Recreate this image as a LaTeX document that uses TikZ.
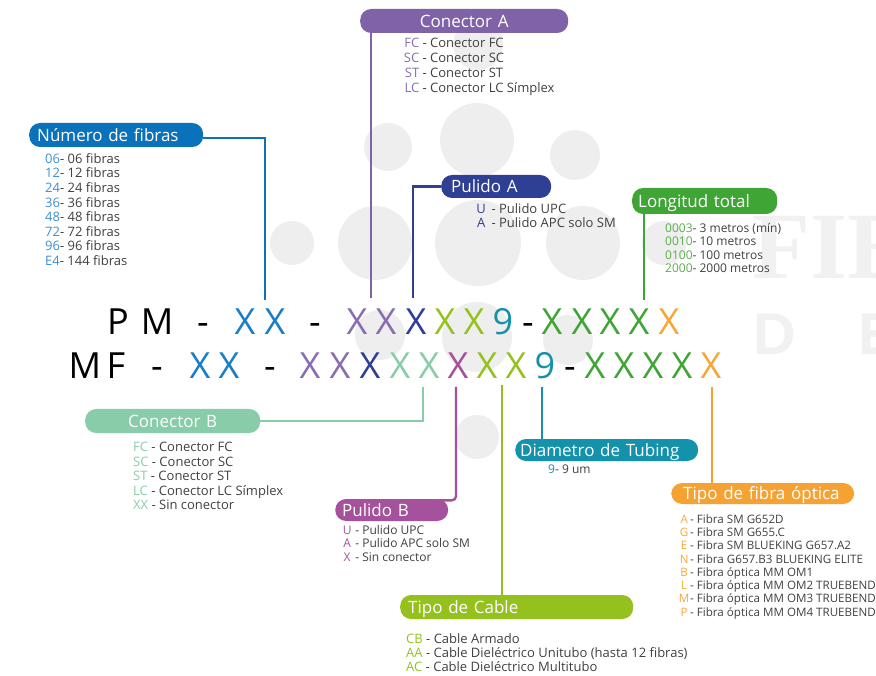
\documentclass[tikz,border=0pt]{standalone}
\usepackage{fontspec}
\setmainfont{Open Sans}
\newfontfamily\wmserif{Liberation Serif}
\newfontfamily\wmsans{Liberation Sans}
\definecolor{cBlue}{HTML}{1A7DC8}
\definecolor{nfPill}{HTML}{0A72BA}
\definecolor{nfCode}{HTML}{3D8FD2}
\definecolor{cPurple}{HTML}{8A6DB1}
\definecolor{caPill}{HTML}{8062A8}
\definecolor{cNavy}{HTML}{2F3F93}
\definecolor{cLime}{HTML}{95C11F}
\definecolor{cTeal}{HTML}{1492AC}
\definecolor{cGreen}{HTML}{3FA535}
\definecolor{ltCode}{HTML}{5AAF4C}
\definecolor{cOrange}{HTML}{F7A738}
\definecolor{tfPill}{HTML}{F5A233}
\definecolor{cMint}{HTML}{88CCA9}
\definecolor{cMagenta}{HTML}{A6519B}
\definecolor{txtGray}{HTML}{404040}
\definecolor{wmGray}{HTML}{EEEEEE}
\definecolor{wmText}{HTML}{F1F1F1}
\pgfdeclarelayer{wm}
\pgfdeclarelayer{bg}
\pgfsetlayers{wm,bg,main}
\begin{document}
\begin{tikzpicture}[x=1pt,y=-1pt,
  pill/.style={rectangle, rounded corners=11pt, inner ysep=0pt, text=white,
    font=\fontsize{17}{17}\selectfont, text height=12.2pt, text depth=0pt, anchor=west},
  item/.style={anchor=base west, inner sep=0pt, text=txtGray},
  codech/.style={anchor=base, inner sep=0pt, font=\fontsize{36}{36}\selectfont},
  conn/.style={line width=2.4pt},
  wmtxt/.style={inner sep=0pt, anchor=base west, text=wmText}]
\useasboundingbox (0,0) rectangle (876,676);

% ---------- watermark ----------
\begin{pgfonlayer}{wm}
\foreach \cx/\cy/\r in {478/45/25, 388/147/24, 477/140/37, 575/155/25,
    292/243/22, 375/243/37, 478/243/43, 583/243/37, 664/243/22,
    380/335/25, 477/337/35, 568/340/25, 477/437/22}
  \fill[wmGray] (\cx,\cy) circle [radius=\r pt];
\node[wmtxt, font=\wmserif\bfseries\fontsize{95}{95}\selectfont] (wmF) at (752,279) {FIE};
\node[wmtxt, font=\wmsans\bfseries\fontsize{59}{59}\selectfont] (wmD) at (753,355) {D};
\node[wmtxt, font=\wmsans\bfseries\fontsize{59}{59}\selectfont] (wmE) at (858,355) {E};
\end{pgfonlayer}

% ---------- code lines ----------
\foreach \x/\c/\col [count=\i] in {118/P/black, 157/M/black, 203/-/black,
    245/X/cBlue, 275/X/cBlue, 315/-/black, 357/X/cPurple, 386/X/cPurple,
    416/X/cNavy, 445/X/cLime, 474/X/cLime, 503/9/cTeal, 528/-/black,
    552/X/cGreen, 582/X/cGreen, 610/X/cGreen, 639/X/cGreen, 669/X/cOrange}
  \node[codech, text=\col] (la\i) at (\x,335) {\c};
\foreach \x/\c/\col [count=\i] in {85/M/black, 116/F/black, 157/-/black,
    200/X/cBlue, 229/X/cBlue, 270/-/black, 310/X/cPurple, 340/X/cPurple,
    370/X/cNavy, 400/X/cMint, 429/X/cMint, 458/X/cMagenta, 487/X/cLime,
    516/X/cLime, 545/9/cTeal, 570/-/black, 595/X/cGreen, 624/X/cGreen,
    653/X/cGreen, 682/X/cGreen, 711/X/cOrange}
  \node[codech, text=\col] (lb\i) at (\x,378) {\c};

% ---------- pills ----------
\node[pill, fill=nfPill, minimum height=24pt, inner xsep=8pt, text width=158pt, align=left] (nf) at (29,135) {Número de fibras};
\node[pill, fill=caPill, minimum height=24pt, inner xsep=8pt, text width=192pt, align=center] (ca) at (360,21) {Conector A};
\node[pill, fill=cNavy, minimum height=23pt, inner xsep=10pt, text width=90pt, align=left] (pa) at (441,186.5) {Pulido A};
\node[pill, fill=cGreen, minimum height=26pt, inner xsep=6pt, text width=133pt, align=left] (lt) at (632,201) {Longitud total};
\node[pill, fill=cMint, minimum height=24pt, inner xsep=8pt, text width=159pt, align=center] (cb) at (85,421) {Conector B};
\node[pill, fill=cMagenta, minimum height=22pt, inner xsep=7pt, text width=99pt, align=left] (pb) at (335,510) {Pulido B};
\node[pill, fill=cLime, minimum height=24pt, inner xsep=8pt, text width=217pt, align=left] (tc) at (400,607) {Tipo de Cable};
\node[pill, fill=cTeal, minimum height=22pt, inner xsep=5pt, text width=173pt, align=left] (dt) at (515,450) {Diametro de Tubing};
\node[pill, fill=tfPill, minimum height=21pt, inner xsep=12pt, text width=159pt, align=left] (tf) at (671,493.5) {Tipo de fibra óptica};

% ---------- connector end points ----------
\coordinate (nfend) at (265,300);
\coordinate (caend) at (371,298);
\coordinate (paend) at (413,298);
\coordinate (ltend) at (644,300);
\coordinate (cbend) at (423,387);
\coordinate (pbend) at (456,387);
\coordinate (tcend) at (502,385);
\coordinate (dtend) at (542,387);
\coordinate (tfend) at (712,387);

\begin{pgfonlayer}{bg}
\draw[conn, nfPill] ([yshift=-3pt]nf.east) -| (nfend);
\draw[conn, caPill] (ca.center -| caend) -- (caend);
\draw[conn, cNavy] (pa.west) -| (paend);
\draw[conn, cGreen] (lt.center -| ltend) -- (ltend);
\draw[conn, cMint] (cb.east) -| (cbend);
\draw[conn, cMagenta, rounded corners=4pt] (pbend) |- ([xshift=-10pt,yshift=-1.5pt]pb.north east);
\draw[conn, cLime] (tcend) -- (tc.center -| tcend);
\draw[conn, cTeal] (dtend) -- (dt.center -| dtend);
\draw[conn, tfPill] (tfend) -- (tf.center -| tfend);
\end{pgfonlayer}

% ---------- lists ----------
\foreach \c/\d [count=\i] in {06/06 fibras, 12/12 fibras, 24/24 fibras, 36/36 fibras,
    48/48 fibras, 72/72 fibras, 96/96 fibras, E4/144 fibras}
  \node[item, font=\fontsize{13}{13}\selectfont] (nfi\i) at (45,{163.3+(\i-1)*14.6}) {{\color{nfCode}\c}- \d};

\foreach \c/\d [count=\i] in {FC/Conector FC, SC/Conector SC, ST/Conector ST, LC/Conector LC Símplex}
  \node[item, font=\fontsize{13}{13}\selectfont] (cai\i) at (404,{47.8+(\i-1)*14.8}) {\makebox[15pt][r]{\color{cPurple}\c} - \d};

\foreach \c/\d [count=\i] in {U/Pulido UPC, A/Pulido APC solo SM}
  \node[item, font=\fontsize{13}{13}\selectfont] (pai\i) at (474,{213.3+(\i-1)*14}) {\makebox[14pt][c]{\color{cNavy}\c} - \d};

\foreach \c/\d [count=\i] in {0003/3 metros (mín), 0010/10 metros, 0100/100 metros, 2000/2000 metros}
  \node[item, font=\fontsize{12}{12}\selectfont] (lti\i) at (665,{232.7+(\i-1)*13.2}) {{\color{ltCode}\c}- \d};

\foreach \c/\d [count=\i] in {FC/Conector FC, SC/Conector SC, ST/Conector ST, LC/Conector LC Símplex, XX/Sin conector}
  \node[item, font=\fontsize{13}{13}\selectfont] (cbi\i) at (133,{451.7+(\i-1)*14.5}) {{\color{cMint}\c} - \d};

\foreach \c/\d [count=\i] in {U/Pulido UPC, A/Pulido APC solo SM, X/Sin conector}
  \node[item, font=\fontsize{12}{12}\selectfont] (pbi\i) at (342,{534.3+(\i-1)*13.6}) {\makebox[10pt][c]{\color{cMagenta}\c} - \d};

\node[item, font=\fontsize{12}{12}\selectfont] (dti1) at (548,473.3) {{\color{cTeal}9}- 9 um};

\foreach \c/\d [count=\i] in {A/Fibra SM G652D, G/Fibra SM G655.C, E/Fibra SM BLUEKING G657.A2,
    N/Fibra G657.B3 BLUEKING ELITE, B/Fibra óptica MM OM1, L/Fibra óptica MM OM2 TRUEBEND,
    M/Fibra óptica MM OM3 TRUEBEND, P/Fibra óptica MM OM4 TRUEBEND}
  \node[item, font=\fontsize{11.6}{11.6}\selectfont] (tfi\i) at (678,{523.3+(\i-1)*13.25}) {\makebox[12pt][c]{\color{cOrange}\c}- \d};

\foreach \c/\d [count=\i] in {CB/Cable Armado, AA/Cable Dieléctrico Unitubo (hasta 12 fibras), AC/Cable Dieléctrico Multitubo}
  \node[item, font=\fontsize{13}{13}\selectfont] (tci\i) at (406,{643.3+(\i-1)*14.2}) {{\color{cLime}\c} - \d};
\end{tikzpicture}
\end{document}
